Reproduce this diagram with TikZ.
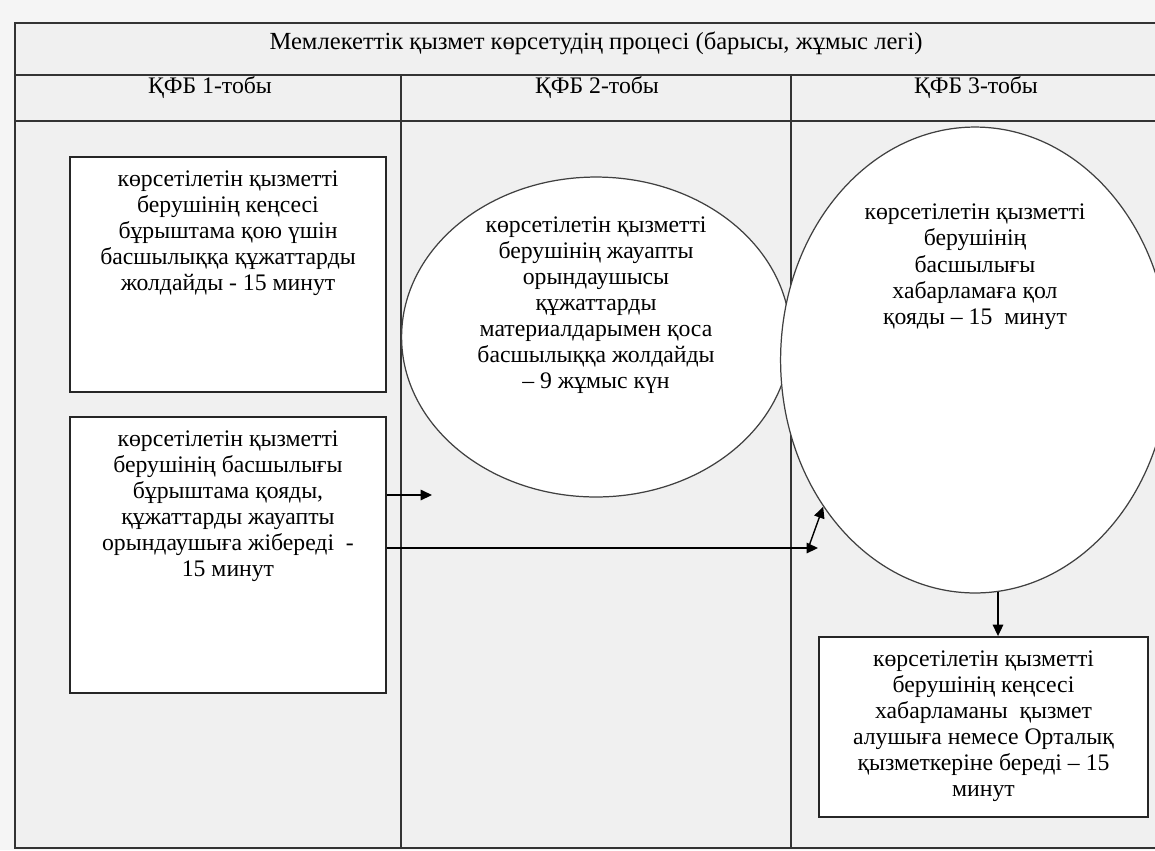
\documentclass[tikz,border=0pt]{standalone}
\usepackage{fontspec}
\setmainfont{Liberation Serif}
\usetikzlibrary{shapes.geometric, arrows.meta}

\newcommand{\boxtxt}[3]{\parbox[c][#2][t]{#1}{\centering\vspace*{8pt}#3}}
\newcommand{\ovaltxt}[3]{\raisebox{#2}[0pt][0pt]{\parbox{#1}{\centering #3}}}

\tikzset{
  lane/.style={line width=1.1pt, draw=black!80},
  stepbox/.style={draw=black!85, line width=1.1pt, fill=white, inner sep=0pt},
  stepoval/.style={ellipse, draw=black!75, line width=0.7pt, fill=white, inner sep=0pt},
  flow/.style={line width=0.8pt, -{Triangle[length=6.5pt,width=6pt]}},
  every node/.style={font=\fontsize{13.5}{14.8}\selectfont}
}

\begin{document}
\begin{tikzpicture}[x=0.02cm, y=-0.02cm]
\useasboundingbox (0,0) rectangle (1155,850);
% background
	\fill[black!4] (0,0) rectangle (1155,850);
	\fill[black!6] (15,23) rectangle (1155,848);

% table lines
	\draw[lane] (1160,23) -- (15,23) -- (15,848) -- (1160,848);
	\draw[lane] (15,75) -- (1160,75);
	\draw[lane] (15,121) -- (1160,121);
	\draw[lane] (401,75) -- (401,848);
	\draw[lane] (791,75) -- (791,848);

% headers
	\node[font=\fontsize{14}{16}\selectfont] (title) at (596,43) {Мемлекеттік қызмет көрсетудің процесі (барысы, жұмыс легі)};
	\node (head1) at (210,88) {ҚФБ 1-тобы};
	\node (head2) at (597,88) {ҚФБ 2-тобы};
	\node (head3) at (976,88) {ҚФБ 3-тобы};

% steps
	\node[stepbox] (box1) at (228,274.5) {\boxtxt{6.32cm}{4.70cm}{көрсетілетін қызметті\\ берушінің кеңсесі\\ бұрыштама қою үшін\\ басшылыққа құжаттарды\\ жолдайды - 15 минут}};
	\node[stepbox] (box2) at (228,555) {\boxtxt{6.32cm}{5.52cm}{көрсетілетін қызметті\\ берушінің басшылығы\\ бұрыштама қояды,\\ құжаттарды жауапты\\ орындаушыға жібереді \ -\\ 15 минут}};
	\node[stepoval, minimum width=7.72cm, minimum height=6.4cm] (ell2) at (596,337) {\ovaltxt{5.5cm}{0.52cm}{көрсетілетін қызметті\\ берушінің жауапты\\ орындаушысы\\ құжаттарды\\ материалдарымен қоса\\ басшылыққа жолдайды\\ – 9 жұмыс күн}};
	\node[stepoval, minimum width=7.12cm, minimum height=9.32cm] (ell3) at (975,360) {\ovaltxt{5.5cm}{1.74cm}{көрсетілетін қызметті\\ берушінің\\ басшылығы\\ хабарламаға қол\\ қояды – 15 \ минут}};
	\node[stepbox] (box3) at (983.5,727) {\boxtxt{6.58cm}{3.6cm}{көрсетілетін қызметті\\ берушінің кеңсесі\\ хабарламаны \ қызмет\\ алушыға немесе Орталық\\ қызметкеріне береді – 15\\ минут}};

% arrows
	\coordinate (a1e) at (432,495);
	\coordinate (a2e) at (818,548);
	\coordinate (a3s) at (809,546);
	\coordinate (a4s) at (998,592);
	\draw[flow] (a1e -| box2.east) -- (a1e);
	\draw[flow] (a2e -| box2.east) -- (a2e);
	\draw[flow] (a3s) -- (ell3.224);
	\draw[flow] (a4s) -- (a4s |- box3.north);

\end{tikzpicture}
\end{document}
